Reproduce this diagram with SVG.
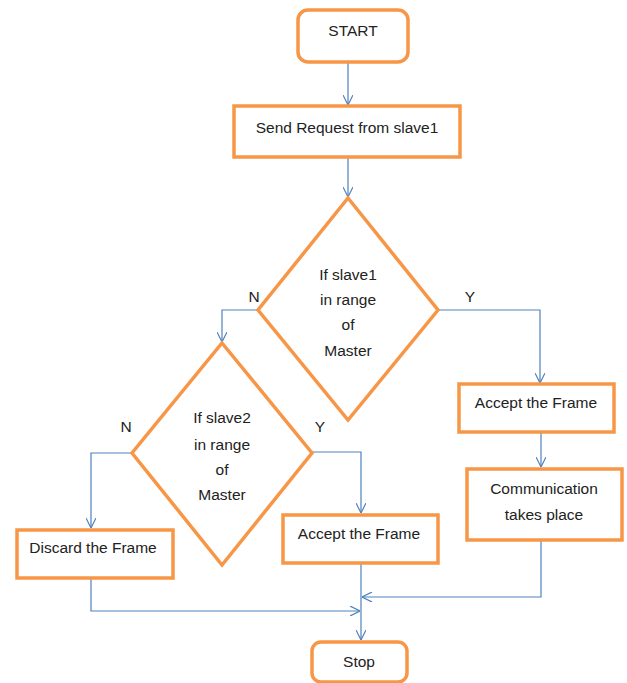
<svg xmlns="http://www.w3.org/2000/svg" width="627" height="683" viewBox="0 0 627 683">
<defs>
<style>
.n{fill:#fff;stroke:#F79646;stroke-width:3.5}
.c{fill:none;stroke:#4F81BD;stroke-width:1.2}
text{font-family:"Liberation Sans",Arial,sans-serif;font-size:15.5px;fill:#222;text-anchor:middle}
</style>
<marker id="a" viewBox="0 0 10 10" refX="10" refY="5" markerWidth="10" markerHeight="10" markerUnits="userSpaceOnUse" orient="auto">
<path d="M0,0 L10,5 L0,10" fill="none" stroke="#4F81BD" stroke-width="1.2"/>
</marker>
</defs>
<rect width="627" height="683" fill="#fff"/>
<g id="connectors" class="c">
<path class="c" d="M348,62 V105" marker-end="url(#a)"/>
<path class="c" d="M348,158 V197" marker-end="url(#a)"/>
<path class="c" d="M258,310 H222 V342" marker-end="url(#a)"/>
<path class="c" d="M438,310 H540 V383" marker-end="url(#a)"/>
<path class="c" d="M132,453 H91 V528" marker-end="url(#a)"/>
<path class="c" d="M312,452 H361 V513" marker-end="url(#a)"/>
<path class="c" d="M541,432 V467" marker-end="url(#a)"/>
<path class="c" d="M541,540 V597 H362" marker-end="url(#a)"/>
<path class="c" d="M91,578 V611 H360" marker-end="url(#a)"/>
<path class="c" d="M361,563 V640" marker-end="url(#a)"/>
</g>
<g id="start"><rect class="n" x="298" y="10" width="110" height="52" rx="10"/><text x="353" y="36">START</text></g>
<g id="send"><rect class="n" x="234" y="106" width="226" height="51"/><text x="347" y="133">Send Request from slave1</text></g>
<g id="dec1"><path class="n" d="M348,198 L438,310 L348,420 L258,310 Z"/>
<text x="348" y="280">If slave1</text><text x="348" y="305">in range</text><text x="348" y="330">of</text><text x="348" y="356">Master</text></g>
<g id="dec2"><path class="n" d="M222,343 L312,453 L222,565 L132,453 Z"/>
<text x="222" y="423">If slave2</text><text x="222" y="450">in range</text><text x="222" y="475">of</text><text x="222" y="500">Master</text></g>
<g id="labels"><text x="254" y="302">N</text><text x="470" y="302">Y</text><text x="126" y="432">N</text><text x="320" y="432">Y</text></g>
<g id="accept1"><rect class="n" x="459" y="384" width="155" height="48"/><text x="536" y="408">Accept the Frame</text></g>
<g id="comm"><rect class="n" x="467" y="469" width="155" height="71"/><text x="544" y="494">Communication</text><text x="544" y="520">takes place</text></g>
<g id="discard"><rect class="n" x="17" y="530" width="156" height="48"/><text x="93" y="553">Discard the Frame</text></g>
<g id="accept2"><rect class="n" x="283" y="515" width="155" height="48"/><text x="359" y="539">Accept the Frame</text></g>
<g id="stop"><rect class="n" x="312" y="642" width="95" height="40" rx="9"/><text x="359" y="667">Stop</text></g>
</svg>
